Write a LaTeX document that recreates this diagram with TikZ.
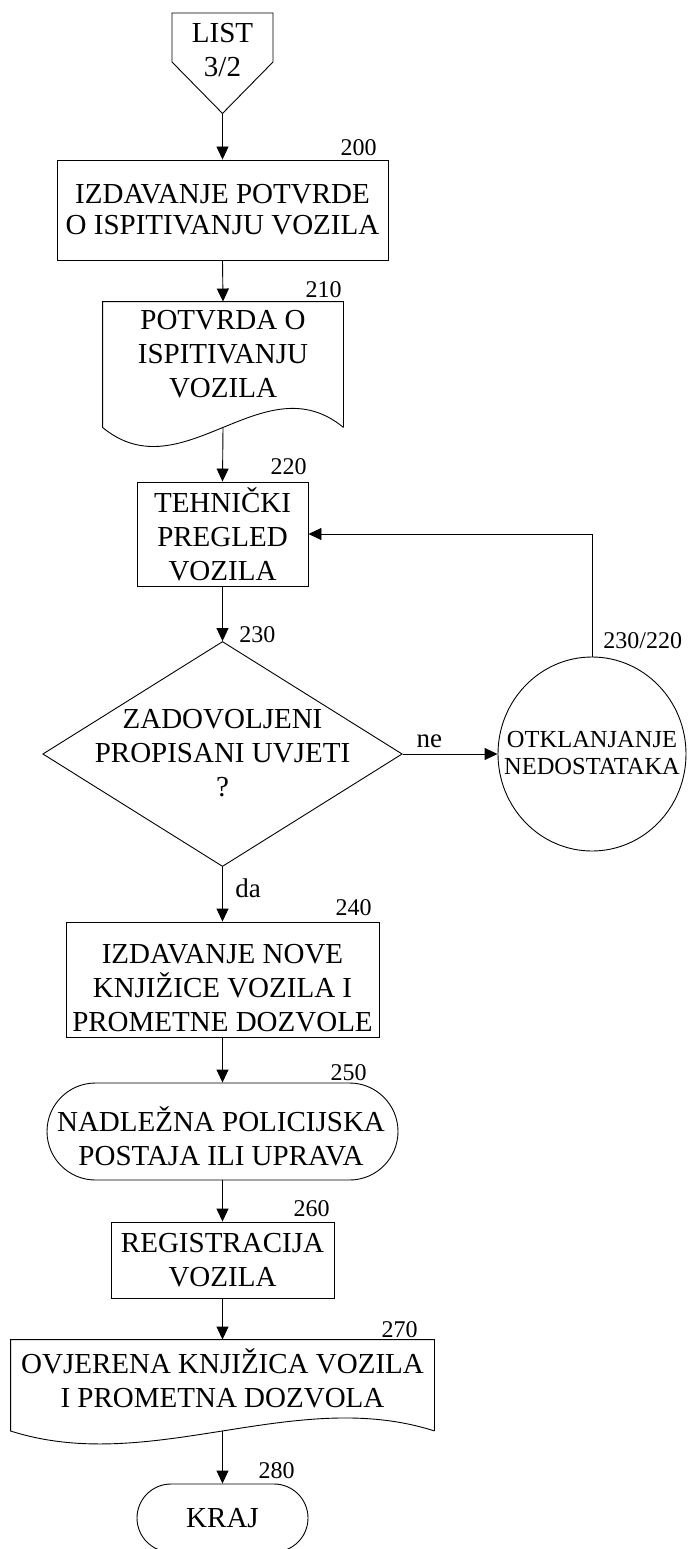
\documentclass[tikz,border=0pt]{standalone}
\usepackage{fontspec}
\setmainfont{Liberation Serif}
\usetikzlibrary{arrows.meta,shapes.geometric}

\begin{document}
\begin{tikzpicture}[x=1pt,y=-1pt,line width=0.9pt,
  txt/.style={font=\fontsize{29}{34}\selectfont, align=center, inner sep=0pt},
  smalltxt/.style={font=\fontsize{24.5}{28}\selectfont, align=center, inner sep=0pt},
  tag/.style={font=\fontsize{24}{28}\selectfont, inner sep=0pt, anchor=base east},
  ynlabel/.style={font=\fontsize{27}{30}\selectfont, inner sep=0pt},
  procbox/.style={draw, rectangle, inner sep=0pt},
  ghost/.style={rectangle, inner sep=0pt},
  flow/.style={-{Triangle[length=13pt,width=12pt]}},
]
\useasboundingbox (0,0) rectangle (688,1549);

% off-page connector
\node[ghost, minimum width=101pt, minimum height=100pt] (list) at (222.5,63) {};
\draw (list.south) -- (172,62) -- (172,13) -- (273,13) -- (273,62) -- cycle;
\node[txt] (tlist) at (222.5,50) {LIST\\3/2};

% 200
\node[procbox, txt, font=\fontsize{29}{31}\selectfont, minimum width=331pt, minimum height=100pt] (b200) at (222.5,210)
  {IZDAVANJE POTVRDE\\O ISPITIVANJU VOZILA};
\node[tag] at (377,156) {200};

% 210 document
\node[ghost, minimum width=240pt, minimum height=125pt] (doc210) at (223,364.5) {};
\draw (doc210.south east) -- (doc210.north east) -- (doc210.north west) -- (doc210.south west)
  .. controls ([shift={(80pt,-66pt)}]doc210.south west) and ([shift={(-80pt,66pt)}]doc210.south east)
  .. (doc210.south east);
\node[txt] (t210) at (223,354.5) {POTVRDA O\\ISPITIVANJU\\VOZILA};
\node[tag] at (342,297) {210};

% 220
\node[procbox, txt, minimum width=171pt, minimum height=104pt] (b220) at (222.5,534)
  {TEHNIČKI\\PREGLED\\VOZILA};
\node[tag] at (307,474) {220};

% 230 decision
\node[draw, diamond, inner sep=0pt, minimum width=359.5pt, minimum height=225pt] (d230) at (222.5,754) {};
\node[txt] (t230) at (222.5,753) {ZADOVOLJENI\\PROPISANI UVJETI\\?};
\node[tag, anchor=base west] at (239,642) {230};

% 230/220 correction
\node[draw, ellipse, inner sep=0pt, minimum width=188pt, minimum height=194pt] (e230) at (592,754) {};
\node[smalltxt] (te230) at (592,753) {OTKLANJANJE\\NEDOSTATAKA};
\node[tag, anchor=base west] at (603,648) {230/220};

% 240
\node[procbox, minimum width=313pt, minimum height=115pt] (b240) at (222.5,979.5) {};
\node[txt] (t240) at (222.5,988) {IZDAVANJE NOVE\\KNJIŽICE VOZILA I\\PROMETNE DOZVOLE};
\node[tag] at (372,915) {240};

% 250 terminal
\node[draw, rectangle, rounded corners=48.5pt, inner sep=0pt, minimum width=351pt, minimum height=97pt] (s250) at (222.5,1131.5) {};
\node[txt] (t250) at (221,1136) {NADLEŽNA POLICIJSKA\\POSTAJA ILI UPRAVA};
\node[tag] at (367,1080) {250};

% 260
\node[procbox, txt, minimum width=223pt, minimum height=76pt] (b260) at (222.5,1260)
  {REGISTRACIJA\\VOZILA};
\node[tag] at (330,1216) {260};

% 270 document
\node[ghost, minimum width=423pt, minimum height=90.5pt] (doc270) at (222.5,1385.25) {};
\draw (doc270.south east) -- (doc270.north east) -- (doc270.north west) -- (doc270.south west)
  .. controls ([shift={(140pt,-45pt)}]doc270.south west) and ([shift={(-140pt,45pt)}]doc270.south east)
  .. (doc270.south east);
\node[txt] (t270) at (222.5,1378) {OVJERENA KNJIŽICA VOZILA\\I PROMETNA DOZVOLA};
\node[tag] at (418,1337) {270};

% 280 end
\node[draw, rectangle, rounded corners=34pt, txt, minimum width=171pt, minimum height=68pt] (s280) at (222.5,1518) {KRAJ};
\node[tag] at (295,1478) {280};

% connectors
\draw[flow] (list.south) -- (b200.north);
\draw[flow] (b200.south) -- (doc210.north);
\draw[flow] (doc210.south) -- (b220.north);
\draw[flow] (b220.south) -- (d230.north);
\draw[flow] (d230.east) -- node[ynlabel, pos=0.28, anchor=base, yshift=7pt] {ne} (e230.west);
\draw[flow] (e230.north) |- (b220.east);
\draw[flow] (d230.south) -- (b240.north);
\node[ynlabel, anchor=base west] at (235,897) {da};
\draw[flow] (b240.south) -- (s250.north);
\draw[flow] (s250.south) -- (b260.north);
\draw[flow] (b260.south) -- (doc270.north);
\draw[flow] (doc270.south) -- (s280.north);
\end{tikzpicture}
\end{document}
